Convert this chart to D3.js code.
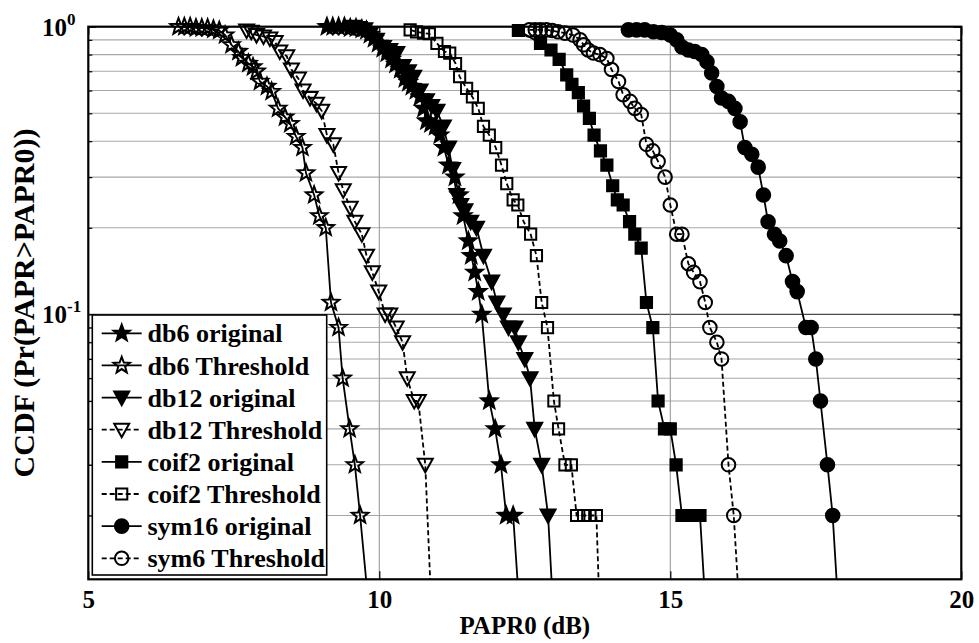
<!DOCTYPE html>
<html><head><meta charset="utf-8">
<script src="https://cdn.jsdelivr.net/npm/d3@7"></script>
<style>body{margin:0;background:#fff}svg{display:block}</style>
</head><body>
<svg id="chart" width="979" height="643"></svg>
<script>
// ---- data ----
const legendLabels = ["db6 original","db6 Threshold","db12 original","db12 Threshold","coif2 original","coif2 Threshold","sym16 original","sym6 Threshold"];
const xTickValues = [5,10,15,20];
const yMajorTicks = [0.1,1];
const yMinorTicks = [0.02,0.03,0.04,0.05,0.06,0.07,0.08,0.09,0.2,0.3,0.4,0.5,0.6,0.7,0.8,0.9];
const yTickExponents = ["-1","0"];

const db6OrigX = [9.10,9.20,9.30,9.40,9.50,9.60,9.70,9.78,9.84,9.91,9.98,10.06,10.13,10.21,10.28,10.36,10.44,10.50,10.56,10.63,10.70,10.76,10.81,10.88,10.96,11.04,11.11,11.19,11.30,11.37,11.44,11.53,11.58,11.64,11.70,11.76,11.89,11.99,12.09,12.18,12.30,12.40];
const db6OrigY = [1,1,1,1,0.99,0.99,0.98,0.97,0.94,0.91,0.875,0.84,0.81,0.77,0.74,0.71,0.66,0.64,0.62,0.60,0.57,0.52,0.47,0.46,0.45,0.42,0.38,0.33,0.30,0.26,0.22,0.18,0.16,0.14,0.12,0.10,0.05,0.04,0.03,0.02,0.02,0.01];

const db6ThrX = [6.55,6.65,6.75,6.85,6.95,7.05,7.15,7.25,7.35,7.46,7.58,7.64,7.75,7.83,7.89,7.95,8.07,8.15,8.26,8.38,8.47,8.57,8.68,8.74,8.88,8.97,9.08,9.17,9.30,9.37,9.49,9.58,9.67,9.81];
const db6ThrY = [1,1,1,0.99,0.99,0.99,0.98,0.97,0.935,0.865,0.82,0.78,0.745,0.725,0.70,0.645,0.62,0.595,0.52,0.485,0.46,0.415,0.38,0.31,0.26,0.22,0.20,0.11,0.09,0.06,0.04,0.03,0.02,0.01];

const db12OrigX = [9.55,9.65,9.75,9.85,9.95,10.07,10.18,10.30,10.41,10.50,10.59,10.70,10.81,10.90,10.99,11.10,11.19,11.26,11.33,11.40,11.47,11.57,11.67,11.79,11.93,12.02,12.13,12.22,12.33,12.39,12.50,12.59,12.67,12.79,12.90,12.98];
const db12OrigY = [1,0.99,0.98,0.95,0.90,0.85,0.83,0.81,0.73,0.70,0.67,0.60,0.555,0.53,0.51,0.45,0.38,0.32,0.26,0.24,0.23,0.21,0.20,0.16,0.13,0.11,0.10,0.09,0.09,0.08,0.07,0.06,0.04,0.03,0.02,0.01];

const db12ThrX = [7.72,7.80,7.89,8.01,8.12,8.21,8.29,8.41,8.49,8.61,8.69,8.81,8.92,9.01,9.10,9.21,9.30,9.38,9.50,9.58,9.70,9.78,9.88,9.99,10.10,10.18,10.29,10.40,10.48,10.60,10.67,10.79,10.89];
const db12ThrY = [0.97,0.96,0.935,0.925,0.91,0.885,0.82,0.79,0.71,0.66,0.60,0.565,0.54,0.51,0.42,0.39,0.31,0.27,0.235,0.21,0.19,0.16,0.14,0.12,0.10,0.10,0.09,0.08,0.06,0.05,0.05,0.03,0.01];

const coif2OrigX = [12.39,12.77,12.95,13.09,13.22,13.31,13.42,13.51,13.61,13.69,13.80,13.91,14.01,14.09,14.19,14.30,14.39,14.50,14.59,14.70,14.79,14.90,15.00,15.10,15.20,15.31,15.42,15.51,15.60];
const coif2OrigY = [0.97,0.875,0.83,0.77,0.68,0.63,0.59,0.53,0.48,0.42,0.37,0.33,0.28,0.25,0.24,0.21,0.19,0.17,0.11,0.09,0.05,0.04,0.04,0.03,0.02,0.02,0.02,0.02,0.01];

const coif2ThrX = [10.53,10.64,10.76,10.86,10.99,11.12,11.21,11.31,11.38,11.50,11.60,11.70,11.79,11.89,12.00,12.10,12.19,12.30,12.38,12.48,12.60,12.70,12.79,12.89,13.00,13.08,13.19,13.30,13.39,13.51,13.62,13.73,13.78];
const coif2ThrY = [0.975,0.96,0.95,0.945,0.875,0.82,0.81,0.745,0.67,0.61,0.57,0.52,0.45,0.42,0.38,0.33,0.285,0.25,0.24,0.21,0.19,0.16,0.11,0.09,0.05,0.04,0.03,0.03,0.02,0.02,0.02,0.02,0.01];

const sym16OrigX = [14.28,14.42,14.56,14.71,14.85,15.00,15.11,15.20,15.31,15.42,15.54,15.63,15.71,15.80,15.88,16.00,16.11,16.20,16.28,16.40,16.51,16.60,16.68,16.79,16.88,16.99,17.10,17.18,17.33,17.42,17.50,17.58,17.70,17.79,17.88];
const sym16OrigY = [0.975,0.975,0.975,0.96,0.955,0.935,0.90,0.85,0.83,0.82,0.80,0.755,0.69,0.62,0.565,0.55,0.52,0.467,0.38,0.36,0.325,0.26,0.21,0.19,0.18,0.16,0.13,0.12,0.09,0.09,0.07,0.05,0.03,0.02,0.01];

const sym6ThrX = [12.58,12.68,12.77,12.87,12.97,13.07,13.19,13.33,13.45,13.51,13.59,13.68,13.79,13.91,13.99,14.11,14.19,14.31,14.39,14.50,14.59,14.70,14.79,14.91,15.00,15.11,15.20,15.31,15.40,15.51,15.60,15.68,15.80,15.88,16.00,16.09,16.18];
const sym6ThrY = [0.975,0.975,0.975,0.975,0.97,0.96,0.95,0.935,0.90,0.865,0.83,0.81,0.80,0.775,0.71,0.645,0.58,0.55,0.52,0.495,0.39,0.37,0.34,0.30,0.24,0.19,0.19,0.15,0.14,0.13,0.11,0.09,0.08,0.07,0.03,0.02,0.01];

// ---- styles (separate from data) ----
const styles = [
  {marker:"star", fill:true,  dash:null},
  {marker:"star", fill:false, dash:null},
  {marker:"tri",  fill:true,  dash:null},
  {marker:"tri",  fill:false, dash:"5,3"},
  {marker:"square", fill:true, dash:null},
  {marker:"square", fill:false, dash:"5,3"},
  {marker:"circle", fill:true, dash:null},
  {marker:"circle", fill:false, dash:"5,3"}
];
const seriesXY = [[db6OrigX,db6OrigY],[db6ThrX,db6ThrY],[db12OrigX,db12OrigY],[db12ThrX,db12ThrY],
                  [coif2OrigX,coif2OrigY],[coif2ThrX,coif2ThrY],[sym16OrigX,sym16OrigY],[sym6ThrX,sym6ThrY]];
const series = seriesXY.map((xy,i)=>({name:legendLabels[i], pts:xy[0].map((x,j)=>[x,xy[1][j]]), ...styles[i]}));

// ---- layout ----
const L=88.3, R=961.3, T=26.7, B=579.3;
const FONT = "'Liberation Serif','Times New Roman',serif";
const svg = d3.select("#chart");
const x = d3.scaleLinear().domain([5,20]).range([L,R]);
const y = d3.scaleLog().domain([0.012,1]).range([B,T]);

svg.append("defs").append("clipPath").attr("id","plotclip")
  .append("rect").attr("x",L).attr("y",T).attr("width",R-L).attr("height",B-T);

// grid
const grid = svg.append("g");
grid.selectAll("line.hmin").data(yMinorTicks).join("line")
  .attr("x1",L).attr("x2",R).attr("y1",d=>y(d)).attr("y2",d=>y(d))
  .attr("stroke","#a8a8a8").attr("stroke-width",1.1);
grid.selectAll("line.hmaj").data(yMajorTicks.filter(d=>d<1)).join("line")
  .attr("x1",L).attr("x2",R).attr("y1",d=>y(d)).attr("y2",d=>y(d))
  .attr("stroke","#4a4a4a").attr("stroke-width",1.1);
grid.selectAll("line.v").data(xTickValues.filter(d=>d>5&&d<20)).join("line")
  .attr("x1",d=>x(d)).attr("x2",d=>x(d)).attr("y1",T).attr("y2",B)
  .attr("stroke","#9a9a9a").attr("stroke-width",1.1);

// axes (ticks inward)
const axStyle = g => { g.select(".domain").remove(); g.selectAll(".tick line").attr("stroke","#000").attr("stroke-width",1.2); };
svg.append("g").attr("transform",`translate(0,${B})`)
  .call(d3.axisBottom(x).tickValues(xTickValues).tickSizeInner(-8).tickSizeOuter(0).tickPadding(11).tickFormat(d3.format("d")))
  .call(axStyle)
  .call(g=>g.selectAll("text").attr("font-family",FONT).attr("font-weight","bold").attr("font-size",25).attr("fill","#000"));
svg.append("g").attr("transform",`translate(0,${T})`)
  .call(d3.axisTop(x).tickValues(xTickValues).tickSizeInner(-8).tickSizeOuter(0).tickFormat(""))
  .call(axStyle);
svg.append("g").attr("transform",`translate(${L},0)`)
  .call(d3.axisLeft(y).tickValues(yMinorTicks).tickSizeInner(-4).tickSizeOuter(0).tickFormat(""))
  .call(axStyle);
svg.append("g").attr("transform",`translate(${R},0)`)
  .call(d3.axisRight(y).tickValues(yMinorTicks).tickSizeInner(-4).tickSizeOuter(0).tickFormat(""))
  .call(axStyle);
svg.append("g").attr("transform",`translate(${R},0)`)
  .call(d3.axisRight(y).tickValues(yMajorTicks).tickSizeInner(-8).tickSizeOuter(0).tickFormat(""))
  .call(axStyle);
const yMajAxis = svg.append("g").attr("transform",`translate(${L},0)`)
  .call(d3.axisLeft(y).tickValues(yMajorTicks).tickSizeInner(-8).tickSizeOuter(0).tickFormat(()=>""))
  .call(axStyle);
yMajAxis.selectAll(".tick text").each(function(d){
  const t = d3.select(this).attr("x",-(L-42)).attr("text-anchor","start").attr("dy","0.34em")
    .attr("font-family",FONT).attr("font-weight","bold").attr("font-size",25).attr("fill","#000");
  t.text(null);
  t.append("tspan").text("10");
  t.append("tspan").attr("font-size",17).attr("dy",-11).text(yTickExponents[yMajorTicks.indexOf(d)]);
});

// frame
svg.append("rect").attr("x",L).attr("y",T).attr("width",R-L).attr("height",B-T)
  .attr("fill","none").attr("stroke","#000").attr("stroke-width",2.2);

// marker shapes
function starPath(R0){ const r=R0*0.42; let p=[]; for(let k=0;k<10;k++){const a=-Math.PI/2+k*Math.PI/5; const rr=k%2?r:R0; p.push([rr*Math.cos(a),rr*Math.sin(a)]);} return "M"+p.map(q=>q.join(",")).join("L")+"Z"; }
const markerPath = {
  star: starPath(8.6),
  tri: "M-7.5,-6L7.5,-6L0,7.5Z",
  square: "M-5.6,-5.6L5.6,-5.6L5.6,5.6L-5.6,5.6Z",
  circle: d3.arc()({innerRadius:0,outerRadius:6.8,startAngle:0,endAngle:2*Math.PI})
};
function drawMarker(g, s, px, py){
  g.append("path").attr("d",markerPath[s.marker]).attr("transform",`translate(${px},${py})`)
   .attr("fill", s.fill ? "#000" : "none").attr("stroke","#000").attr("stroke-width",2);
}

// series
const line = d3.line().x(d=>x(d[0])).y(d=>y(d[1]));
const plotG = svg.append("g");
series.forEach(s=>{
  const g = plotG.append("g");
  g.append("path").attr("d",line(s.pts)).attr("clip-path","url(#plotclip)")
    .attr("fill","none").attr("stroke","#000").attr("stroke-width",1.8)
    .attr("stroke-dasharray", s.dash);
  s.pts.filter(p=>p[1]>=y.domain()[0]).forEach(p=>drawMarker(g,s,x(p[0]),y(p[1])));
});

// legend
const lg = svg.append("g");
lg.append("rect").attr("x",92.3).attr("y",315).attr("width",234.4).attr("height",260)
  .attr("fill","#fff").attr("stroke","#000").attr("stroke-width",1.6);
series.forEach((s,i)=>{
  const cy = 333.3 + i*32.14;
  lg.append("line").attr("x1",101.7).attr("x2",141.7).attr("y1",cy).attr("y2",cy)
    .attr("stroke","#000").attr("stroke-width",1.8).attr("stroke-dasharray", s.dash);
  drawMarker(lg, s, 121.7, cy);
  lg.append("text").attr("x",147.5).attr("y",cy).attr("dy","0.35em")
    .attr("font-family",FONT).attr("font-weight","bold").attr("font-size",26).text(s.name);
});

// axis titles
svg.append("text").attr("x",(L+R)/2).attr("y",634).attr("text-anchor","middle")
  .attr("font-family",FONT).attr("font-weight","bold").attr("font-size",25).text("PAPR0 (dB)");
svg.append("text").attr("transform",`translate(34,${(T+B)/2}) rotate(-90)`).attr("text-anchor","middle")
  .attr("font-family",FONT).attr("font-weight","bold").attr("font-size",30).text("CCDF (Pr(PAPR>PAPR0))");
</script>
</body></html>
